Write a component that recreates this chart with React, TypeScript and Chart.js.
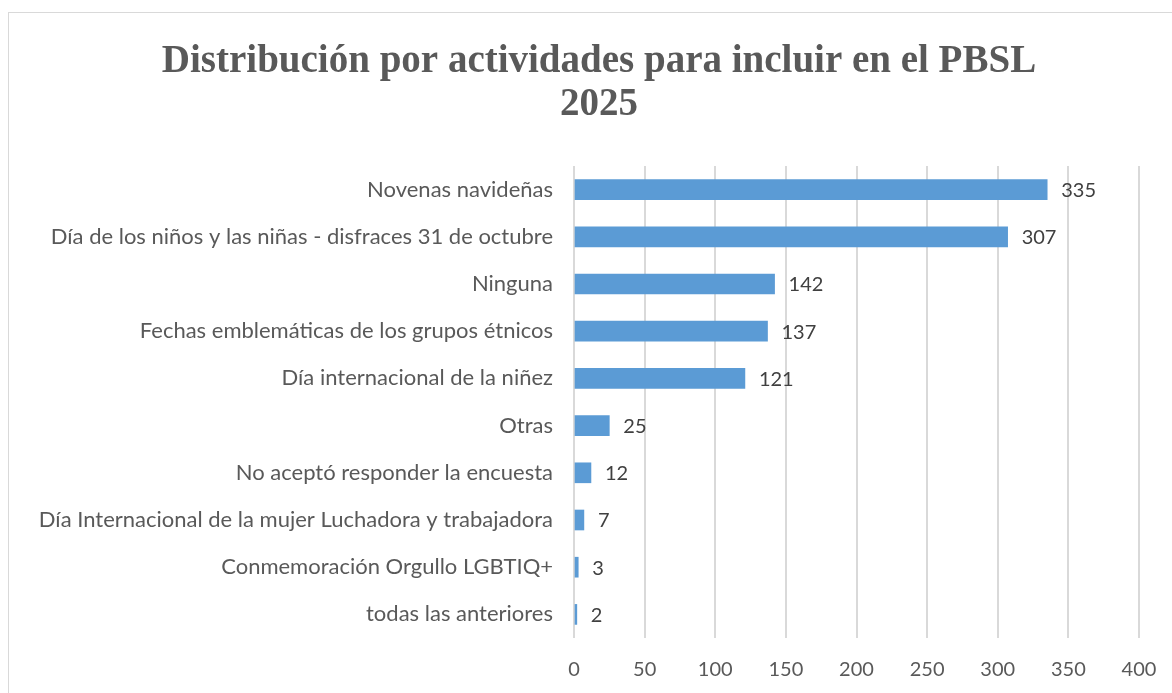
import React, { useEffect, useRef } from "react";
import { Chart, registerables } from "chart.js";

Chart.register(...registerables);

const titleLines = ["Distribución por actividades para incluir en el PBSL", "2025"];
const categories = [
  "Novenas navideñas",
  "Día de los niños y las niñas - disfraces 31 de octubre",
  "Ninguna",
  "Fechas emblemáticas de los grupos étnicos",
  "Día internacional de la niñez",
  "Otras",
  "No aceptó responder la encuesta",
  "Día Internacional de la mujer Luchadora y trabajadora",
  "Conmemoración Orgullo LGBTIQ+",
  "todas las anteriores",
];
const values = [335, 307, 142, 137, 121, 25, 12, 7, 3, 2];
const axisMin = 0;
const axisMax = 400;
const axisStep = 50;

const LABEL_FONT = "Lato, 'Open Sans', sans-serif";

const dataLabelPlugin = {
  id: "dataLabels",
  afterDatasetsDraw(chart: any) {
    const ctx = chart.ctx;
    const meta = chart.getDatasetMeta(0);
    ctx.save();
    ctx.font = `20px ${LABEL_FONT}`;
    ctx.fillStyle = "#404040";
    ctx.textAlign = "left";
    ctx.textBaseline = "middle";
    meta.data.forEach((bar: any, i: number) => {
      ctx.fillText(String(values[i]), bar.x + 14, bar.y + 1);
    });
    ctx.restore();
  },
};

const titlePlugin = {
  id: "customTitle",
  afterDraw(chart: any) {
    const ctx = chart.ctx;
    ctx.save();
    ctx.font = `bold 39px 'Liberation Serif', serif`;
    ctx.fillStyle = "#595959";
    ctx.textAlign = "center";
    ctx.textBaseline = "middle";
    titleLines.forEach((line, i) => {
      ctx.fillText(line, 599, 62 + i * 43);
    });
    ctx.restore();
  },
};

export default function App() {
  const ref = useRef<HTMLCanvasElement | null>(null);

  useEffect(() => {
    document.body.style.margin = "0";
    const canvas = ref.current;
    if (!canvas) return;
    const chart = new Chart(canvas, {
      type: "bar",
      data: {
        labels: categories,
        datasets: [
          {
            data: values,
            backgroundColor: "#5b9bd5",
            borderWidth: 0,
            barThickness: 20,
          },
        ],
      },
      options: {
        indexAxis: "y",
        animation: false,
        responsive: false,
        maintainAspectRatio: false,
        layout: { padding: { top: 166, right: 33, bottom: 10, left: 0 } },
        plugins: {
          legend: { display: false },
          tooltip: { enabled: false },
          title: { display: false },
        },
        scales: {
          x: {
            min: axisMin,
            max: axisMax,
            afterFit(scale: any) {
              scale.height = 45;
              scale.paddingLeft = 0;
              scale.paddingRight = 0;
            },
            ticks: {
              stepSize: axisStep,
              color: "#595959",
              font: { family: LABEL_FONT, size: 20 },
              padding: 20,
            },
            grid: { color: "#d9d9d9", lineWidth: 2, drawTicks: false },
            border: { display: false },
          },
          y: {
            afterFit(scale: any) {
              scale.width = 574;
            },
            ticks: {
              color: "#595959",
              font: { family: LABEL_FONT, size: 22 },
              padding: 21,
              autoSkip: false,
            },
            grid: { display: false, drawTicks: false },
            border: { display: false },
          },
        },
      },
      plugins: [dataLabelPlugin, titlePlugin],
    });
    return () => chart.destroy();
  }, []);

  return (
    <div style={{ position: "relative", width: 1172, height: 693, overflow: "hidden", background: "#fff" }}>
      <canvas ref={ref} width={1172} height={693} style={{ position: "absolute", left: 0, top: 0 }} />
      <div
        style={{
          position: "absolute",
          left: 8,
          top: 12,
          width: 1200,
          height: 720,
          border: "1px solid #d9d9d9",
          pointerEvents: "none",
        }}
      />
    </div>
  );
}
